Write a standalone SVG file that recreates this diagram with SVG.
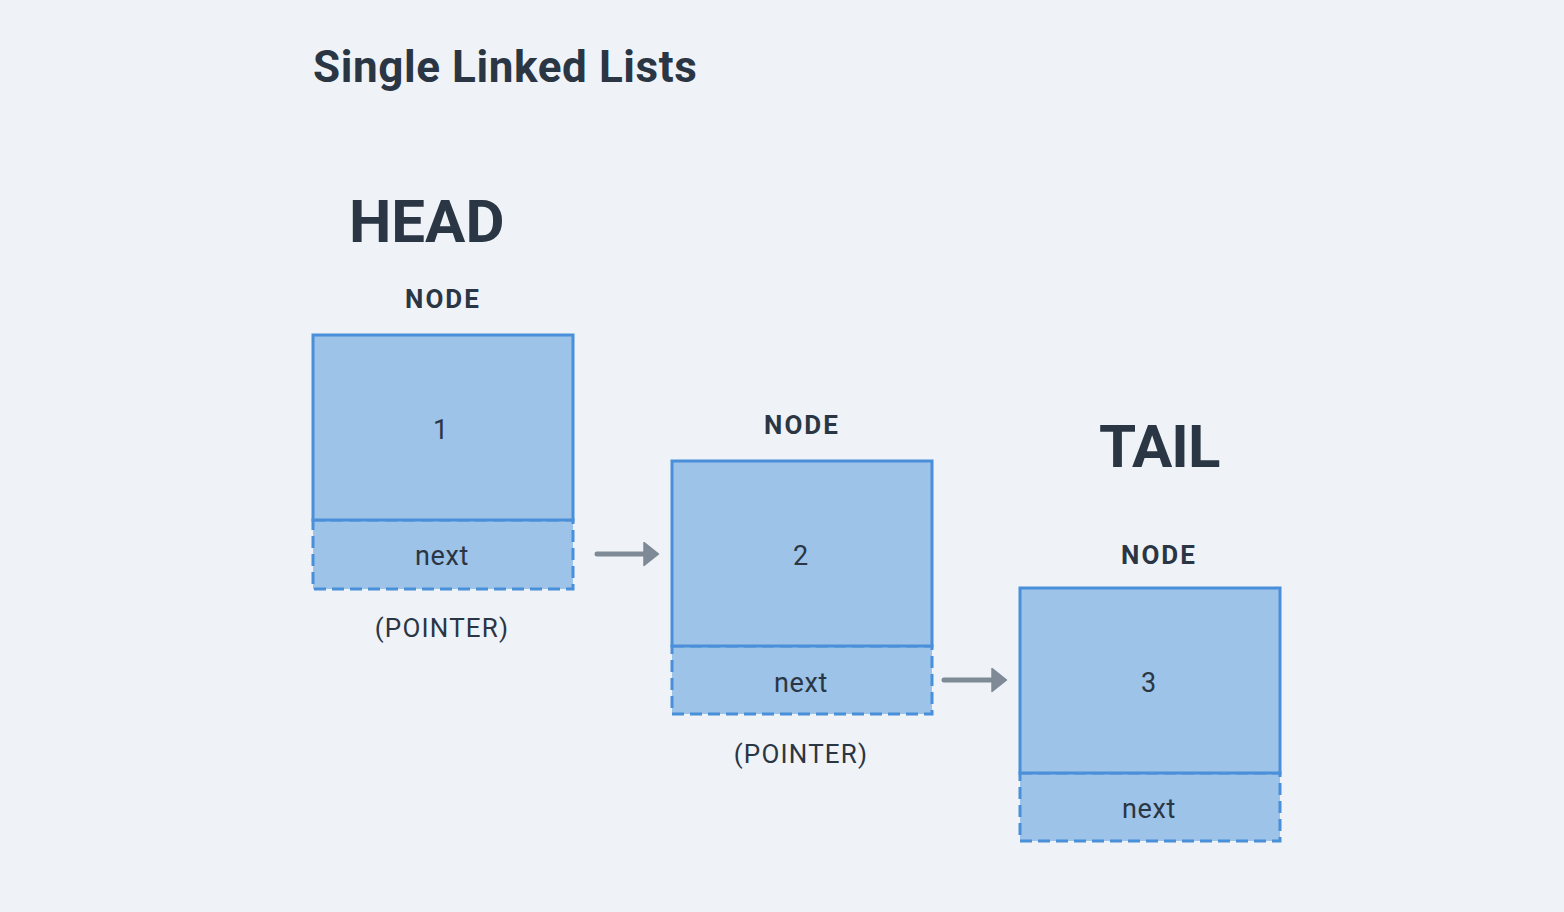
<svg xmlns="http://www.w3.org/2000/svg" width="1564" height="912" viewBox="0 0 1564 912">
<defs>
<style>
.bg{fill:#eff3f7}
.box{fill:#9dc3e8;stroke:#4a8fd9;stroke-width:3}
.ptr{fill:#9dc3e8;stroke:#4a8fd9;stroke-width:3;stroke-dasharray:12 6}
.t{font-family:Roboto,"Liberation Sans",sans-serif;fill:#2b3644}
.title{font-size:44px;font-weight:700;letter-spacing:0.6px}
.big{font-size:60px;font-weight:700}
.lbl{font-size:26px;font-weight:700;text-anchor:middle;letter-spacing:2px}
.val{font-size:27px;text-anchor:middle;letter-spacing:0.6px}
.cap{font-size:26px;text-anchor:middle;letter-spacing:1.2px}
.conn{stroke:#7e8a96;stroke-width:5;stroke-linecap:round;fill:none}
</style>
<marker id="ah" markerWidth="3.4" markerHeight="5" refX="0.2" refY="2.5" orient="auto" markerUnits="strokeWidth">
<path d="M0.2,0.2 L3.1,2.5 L0.2,4.8 Z" fill="#7e8a96" stroke="#7e8a96" stroke-width="0.3" stroke-linejoin="round"/>
</marker>
</defs>
<rect class="bg" x="0" y="0" width="1564" height="912"/>
<text class="t title" x="313" y="82">Single Linked Lists</text>
<text class="t big" x="349" y="242">HEAD</text>
<text class="t big" x="1099" y="467" style="letter-spacing:-1px">TAIL</text>
<g id="node1">
<text class="t lbl" x="443" y="308">NODE</text>
<rect class="ptr" x="313" y="520" width="260" height="69"/>
<rect class="box" x="313" y="335" width="260" height="185"/>
<text class="t val" x="441" y="439">1</text>
<text class="t val" x="442" y="565">next</text>
<text class="t cap" x="442" y="637">(POINTER)</text>
</g>
<g id="node2">
<text class="t lbl" x="802" y="434">NODE</text>
<rect class="ptr" x="672" y="646" width="260" height="68"/>
<rect class="box" x="672" y="461" width="260" height="185"/>
<text class="t val" x="801" y="565">2</text>
<text class="t val" x="801" y="692">next</text>
<text class="t cap" x="801" y="763">(POINTER)</text>
</g>
<g id="node3">
<text class="t lbl" x="1159" y="564">NODE</text>
<rect class="ptr" x="1020" y="773" width="260" height="68"/>
<rect class="box" x="1020" y="588" width="260" height="185"/>
<text class="t val" x="1149" y="692">3</text>
<text class="t val" x="1149" y="818">next</text>
</g>
<g id="connectors">
<line class="conn" x1="597" y1="554" x2="644" y2="554" marker-end="url(#ah)"/>
<line class="conn" x1="944" y1="680" x2="992" y2="680" marker-end="url(#ah)"/>
</g>
</svg>
